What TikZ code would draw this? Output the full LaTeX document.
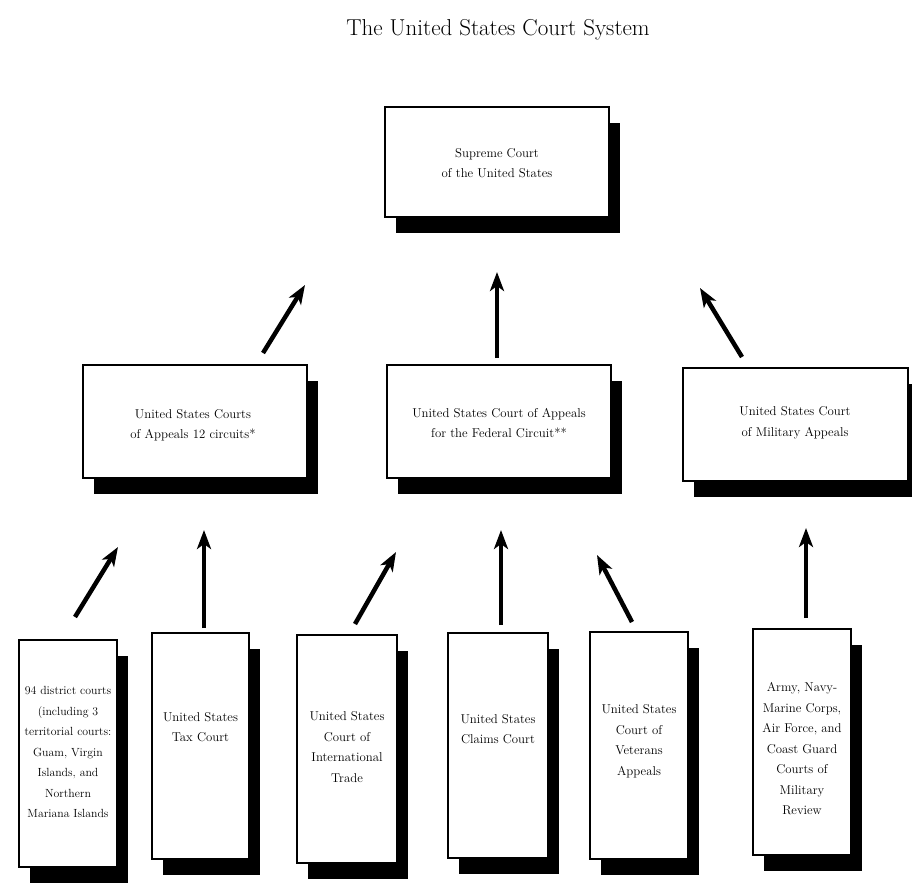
\documentclass[tikz,border=0pt]{standalone}
\usetikzlibrary{shadows,arrows.meta}
\begin{document}
\begin{tikzpicture}[x=1pt,y=-1pt,
  box/.style={draw=black, line width=1.3pt, fill=white, inner sep=0pt,
    drop shadow={shadow xshift=11pt, shadow yshift=-16pt, opacity=1, fill=black}},
  lbl/.style={align=center, font=\fontsize{12.8}{20.5}\selectfont, inner sep=0pt},
  arr/.style={line width=4.5pt, -{Stealth[length=19pt,width=14pt,inset=5pt]}}]
\useasboundingbox (0,0) rectangle (912,889);
\node[font=\fontsize{23}{27}\selectfont] (title) at (498,30) {The United States Court System};
% boxes
\node[box, minimum width=224pt, minimum height=110pt] (sc) at (497,162) {};
\node[box, minimum width=224pt, minimum height=113pt] (lm) at (195,421.5) {};
\node[box, minimum width=224pt, minimum height=113pt] (cm) at (499,421.5) {};
\node[box, minimum width=225pt, minimum height=113pt] (rm) at (795.5,424.5) {};
\node[box, minimum width=98pt, minimum height=227pt] (b1) at (68,753.5) {};
\node[box, minimum width=97pt, minimum height=226pt] (b2) at (200.5,746) {};
\node[box, minimum width=100pt, minimum height=228pt] (b3) at (347,749) {};
\node[box, minimum width=100pt, minimum height=225pt] (b4) at (498,745.5) {};
\node[box, minimum width=98pt, minimum height=227pt] (b5) at (639,745.5) {};
\node[box, minimum width=98pt, minimum height=226pt] (b6) at (802,742) {};
% labels
\node[lbl] (tsc) at (497,163) {Supreme Court\\of the United States};
\node[lbl] (tlm) at (193,425) {United States Courts\\of Appeals 12 circuits*};
\node[lbl] (tcm) at (499,423) {United States Court of Appeals\\for the Federal Circuit**};
\node[lbl] (trm) at (795,423) {United States Court\\of Military Appeals};
\node[lbl, font=\fontsize{11.8}{20.5}\selectfont] (tb1) at (68,752) {94 district courts\\(including 3\\territorial courts:\\Guam, Virgin\\Islands, and\\Northern\\Mariana Islands};
\node[lbl] (tb2) at (200.5,727) {United States\\Tax Court};
\node[lbl] (tb3) at (347,747) {United States\\Court of\\International\\Trade};
\node[lbl] (tb4) at (498,729) {United States\\Claims Court};
\node[lbl] (tb5) at (639,741) {United States\\Court of\\Veterans\\Appeals};
\node[lbl] (tb6) at (802,749) {Army, Navy-\\Marine Corps,\\Air Force, and\\Coast Guard\\Courts of\\Military\\Review};
% arrow endpoints
\coordinate (a1s) at (263,353); \coordinate (a1e) at (305,285);
\coordinate (a2s) at (497,358); \coordinate (a2e) at (497,272);
\coordinate (a3s) at (742,357); \coordinate (a3e) at (700,288);
\coordinate (a4s) at (75,617);  \coordinate (a4e) at (118,547);
\coordinate (a5s) at (204,628); \coordinate (a5e) at (204,530);
\coordinate (a6s) at (355,624); \coordinate (a6e) at (396,552);
\coordinate (a7s) at (501,625); \coordinate (a7e) at (501,530);
\coordinate (a8s) at (632,622); \coordinate (a8e) at (597,555);
\coordinate (a9s) at (806,618); \coordinate (a9e) at (806,528);
\foreach \i in {1,...,9} { \draw[arr] (a\i s) -- (a\i e); }
\end{tikzpicture}
\end{document}
